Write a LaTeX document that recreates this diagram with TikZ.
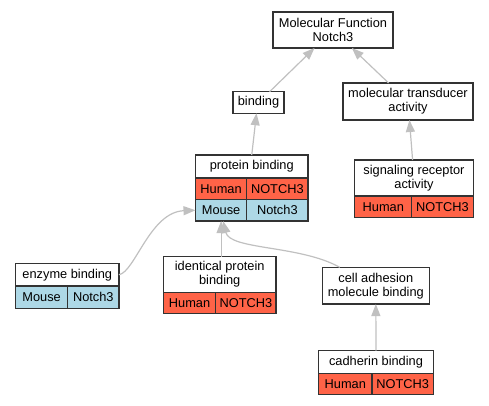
\documentclass[tikz,border=0pt]{standalone}
\usepackage{fontspec}
\setmainfont{Liberation Sans}
\usepackage{tikz}
\usetikzlibrary{arrows.meta}

\definecolor{humred}{HTML}{FF6347}
\definecolor{mouseblue}{HTML}{ADD8E6}
\definecolor{edgegray}{HTML}{C0C0C0}

\tikzset{
    term/.style={draw=black!80, fill=white, line width=1.2pt, inner sep=0pt, outer sep=0pt,
        align=center, font=\fontsize{12.8}{14}\selectfont},
    cell/.style={term, anchor=north west, minimum height=21.5pt},
    hum/.style={cell, fill=humred},
    mou/.style={cell, fill=mouseblue},
    isa/.style={draw=edgegray, line width=1.2pt, -{Triangle[length=12pt,width=9pt]}}
}

\begin{document}
\begin{tikzpicture}[x=1pt,y=-1pt]
    \useasboundingbox (0,0) rectangle (489,405);

    % terms
    \node[term, minimum width=120pt, minimum height=36pt] (mf) at (333,30) {Molecular Function\\Notch3};
    \node[term, minimum width=51pt, minimum height=21.5pt] (bind) at (258.5,102.5) {binding};
    \node[term, minimum width=130pt, minimum height=37pt] (mta) at (408,101.5) {molecular transducer\\activity};
    \node[term, minimum width=118.3pt, minimum height=36pt] (sig) at (414,178) {signaling receptor\\activity};
    \node[term, minimum width=112.5pt, minimum height=23pt] (pb) at (251.75,166.5) {protein binding};
    \node[term, minimum width=103.3pt, minimum height=22.7pt] (enz) at (67.3,274.7) {enzyme binding};
    \node[term, minimum width=112.7pt, minimum height=35.6pt] (idt) at (219.7,274.5) {identical protein\\binding};
    \node[term, minimum width=107pt, minimum height=36.7pt] (cam) at (375.8,285.7) {cell adhesion\\molecule binding};
    \node[term, minimum width=114.6pt, minimum height=22.6pt] (cad) at (376,362) {cadherin binding};

    % species rows
    \foreach \t/\w/\v in {sig/57/61.3, pb/51.2/61.3, idt/52.4/60.3, cad/53.3/61.3} {
        \node[hum, minimum width=\w pt] (\t-h) at (\t.south west) {Human};
        \node[hum, minimum width=\v pt] (\t-hn) at (\t-h.north east) {NOTCH3};
    }
    \node[mou, minimum width=51.2pt] (pb-m) at (pb-h.south west) {Mouse};
    \node[mou, minimum width=61.3pt] (pb-mn) at (pb-m.north east) {Notch3};
    \node[mou, minimum width=52pt, minimum height=22.3pt] (enz-m) at (enz.south west) {Mouse};
    \node[mou, minimum width=51.3pt, minimum height=22.3pt] (enz-mn) at (enz-m.north east) {Notch3};

    % is-a edges
    \draw[isa] (bind) -- (mf);
    \draw[isa] (mta) -- (mf);
    \draw[isa] (pb.north) -- ([xshift=-2pt]bind.south);
    \draw[isa] (sig) -- (mta);
    \draw[isa] (enz.east) .. controls (135,272) and (150,212) .. (pb-m.west);
    \draw[isa] (idt.north -| pb-m.south) -- (pb-m.south);
    \draw[isa] ([xshift=-36pt]cam.north) .. controls (300,245) and (230,250) .. ([xshift=2pt]pb-m.south);
    \draw[isa] (cad) -- (cam);
\end{tikzpicture}
\end{document}
